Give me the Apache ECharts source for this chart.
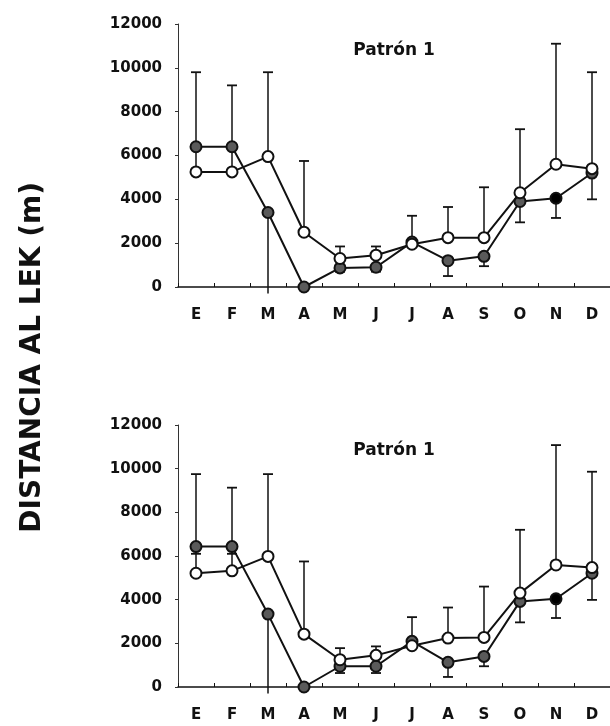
<!DOCTYPE html>
<html>
<head>
<meta charset="utf-8">
<style>
  html, body { margin: 0; padding: 0; background: #fff; }
  #chart { width: 610px; height: 726px; }
</style>
<script src="https://cdn.jsdelivr.net/npm/echarts@6/dist/echarts.min.js"></script>
</head>
<body>
<div id="chart"></div>
<script>
// Months of the year (Spanish initials)
const months = ['E', 'F', 'M', 'A', 'M', 'J', 'J', 'A', 'S', 'O', 'N', 'D'];
const yTicks = [0, 2000, 4000, 6000, 8000, 10000, 12000];

// Upper panel: mean distance to the lek (m)
const topFilled      = [6400, 6400, 3400, 0, 870, 900, 2050, 1200, 1400, 3900, 4050, 5200];
const topOpen        = [5250, 5250, 5950, 2500, 1300, 1450, 1950, 2250, 2250, 4300, 5600, 5400];
const topOpenUpper   = [9800, 9200, 9800, 5750, 1850, 1850, 3250, 3650, 4550, 7200, 11100, 9800];
const topFilledLower = [null, null, -300, null, 700, 700, null, 500, 950, 2950, 3150, 4000];

// Lower panel
const botFilled      = [6430, 6430, 3340, 0, 950, 950, 2090, 1130, 1400, 3920, 4040, 5210];
const botOpen        = [5210, 5320, 5980, 2420, 1250, 1450, 1890, 2240, 2270, 4300, 5590, 5470];
const botOpenUpper   = [9750, 9130, 9750, 5750, 1780, 1860, 3200, 3640, 4600, 7200, 11080, 9860];
const botFilledLower = [6100, 6100, -300, null, 640, 640, null, 460, 950, 2960, 3160, 3990];

const panelTitle = 'Patrón 1';
const yName = 'DISTANCIA AL LEK (m)';
const solidMonth = 10; // November drawn as a solid black dot

const FONT = '"DejaVu Sans", "Liberation Sans", sans-serif';
const INK = '#111';

function errorSeries(gridIdx, lows, highs, capAtTop) {
  const data = [];
  for (let i = 0; i < months.length; i++) {
    if (lows[i] == null || highs[i] == null) continue;
    data.push([i, lows[i], highs[i]]);
  }
  return {
    type: 'custom',
    xAxisIndex: gridIdx,
    yAxisIndex: gridIdx,
    z: 1,
    silent: true,
    data: data,
    renderItem: function (params, api) {
      const x = api.value(0);
      const lo = api.value(1), hi = api.value(2);
      const p0 = api.coord([x, lo]);
      const p1 = api.coord([x, hi]);
      const capVal = capAtTop ? hi : lo;
      const cp = capAtTop ? p1 : p0;
      const half = 5;
      const children = [{
        type: 'line',
        shape: { x1: p0[0], y1: p0[1], x2: p1[0], y2: p1[1] },
        style: { stroke: INK, lineWidth: 1.5 }
      }];
      if (capVal >= 0) {
        children.push({
          type: 'line',
          shape: { x1: cp[0] - half, y1: cp[1], x2: cp[0] + half, y2: cp[1] },
          style: { stroke: INK, lineWidth: 1.8 }
        });
      }
      return { type: 'group', children: children };
    }
  };
}

function filledData(vals) {
  return vals.map(function (v, i) {
    return i === solidMonth ? { value: v, itemStyle: { color: '#000' } } : v;
  });
}

function lineSeries(gridIdx, vals, fill, z) {
  return {
    type: 'line',
    xAxisIndex: gridIdx,
    yAxisIndex: gridIdx,
    z: z,
    data: vals,
    symbol: 'circle',
    symbolSize: 11,
    showSymbol: true,
    silent: true,
    animation: false,
    lineStyle: { color: INK, width: 2 },
    itemStyle: { color: fill, borderColor: INK, borderWidth: 2 }
  };
}

const grids = [
  { left: 178, top: 24, width: 437, height: 263 },
  { left: 178, top: 425, width: 437, height: 262 }
];

const xAxes = grids.map(function (g, i) {
  return {
    type: 'category',
    gridIndex: i,
    data: months,
    boundaryGap: true,
    axisLine: { show: true, lineStyle: { color: INK, width: 1.5 } },
    axisTick: { show: true, inside: true, length: 4, lineStyle: { color: INK, width: 1 } },
    axisLabel: { color: INK, fontFamily: FONT, fontWeight: 'bold', fontSize: 15, margin: 21 },
    splitLine: { show: false }
  };
});

const yAxes = grids.map(function (g, i) {
  return {
    type: 'value',
    gridIndex: i,
    min: yTicks[0],
    max: yTicks[yTicks.length - 1],
    interval: yTicks[1] - yTicks[0],
    axisLine: { show: true, lineStyle: { color: '#333', width: 1 } },
    axisTick: { show: true, length: 3, lineStyle: { color: '#333' } },
    axisLabel: {
      color: INK, fontFamily: FONT, fontWeight: 'bold', fontSize: 15, margin: 16,
      formatter: function (v) { return String(v); }
    },
    splitLine: { show: false }
  };
});

const chart = echarts.init(document.getElementById('chart'), null, { renderer: 'canvas' });
chart.setOption({
  animation: false,
  backgroundColor: '#fff',
  grid: grids,
  xAxis: xAxes,
  yAxis: yAxes,
  title: [
    { text: panelTitle, left: 389, top: 37, textAlign: 'center',
      textStyle: { fontFamily: FONT, fontWeight: 'bold', fontSize: 17, color: INK } },
    { text: panelTitle, left: 389, top: 437, textAlign: 'center',
      textStyle: { fontFamily: FONT, fontWeight: 'bold', fontSize: 17, color: INK } }
  ],
  graphic: [{
    type: 'text',
    left: 19,
    top: 182,
    rotation: Math.PI / 2,
    style: {
      text: yName,
      fontFamily: FONT,
      fontWeight: 'bold',
      fontSize: 28,
      fill: INK
    }
  }],
  series: [
    errorSeries(0, topOpen, topOpenUpper, true),
    errorSeries(0, topFilledLower, topFilled, false),
    lineSeries(0, filledData(topFilled), '#5a5a5a', 3),
    lineSeries(0, topOpen, '#fff', 4),
    errorSeries(1, botOpen, botOpenUpper, true),
    errorSeries(1, botFilledLower, botFilled, false),
    lineSeries(1, filledData(botFilled), '#5a5a5a', 3),
    lineSeries(1, botOpen, '#fff', 4)
  ]
});
</script>
</body>
</html>
